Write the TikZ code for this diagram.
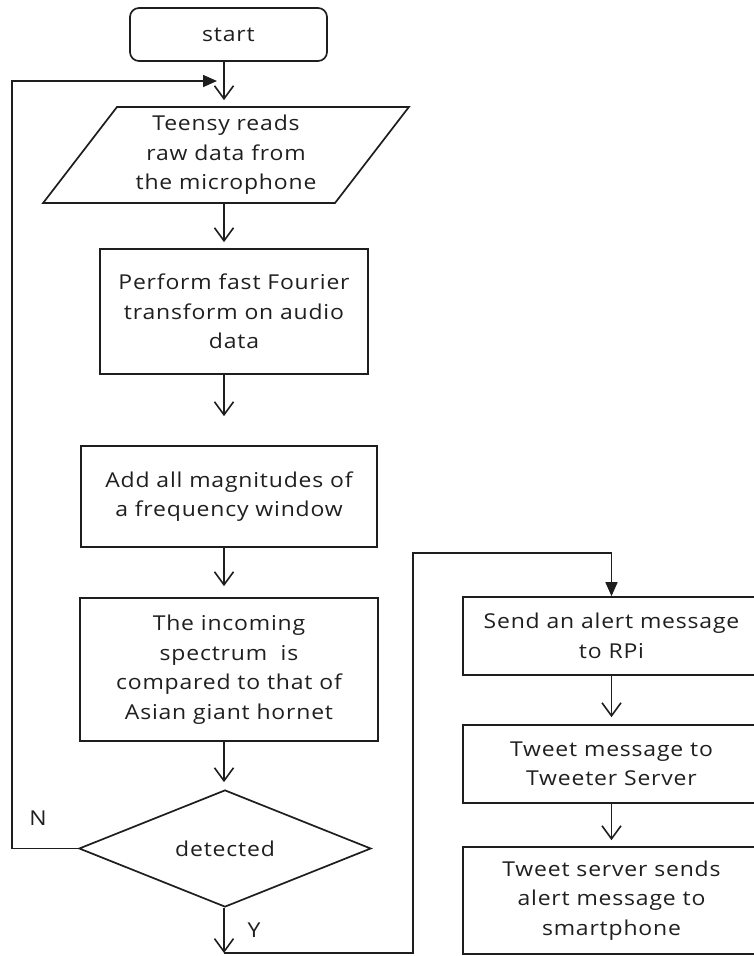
\documentclass[tikz,border=0pt]{standalone}
\usepackage{fontspec}
\setmainfont{Open Sans}[FakeStretch=1.12, LetterSpace=4]
\usetikzlibrary{arrows.meta,shapes.geometric}
\definecolor{ln}{HTML}{1E1E1E}
\definecolor{tx}{HTML}{1F1F1F}
\tikzset{
  base/.style={draw=ln, line width=1.7pt, text=tx, align=center, inner sep=0pt,
    font=\fontsize{20.5}{29.5}\selectfont},
  procbox/.style={base, rectangle},
  openarr/.style={draw=ln, line width=1.6pt, -{Straight Barb[length=13pt,width=19pt]}},
  fillarr/.style={draw=ln, line width=1.6pt, -{Triangle[length=14pt,width=12pt]}},
  lbl/.style={text=tx, font=\fontsize{20.5}{24}\selectfont, inner sep=0pt}
}
\begin{document}
\begin{tikzpicture}[x=1pt,y=-1pt]
\useasboundingbox (0,0) rectangle (754,956);
\fill[white] (0,0) rectangle (754,956);

\coordinate (spine) at (224,0);

\node[procbox, rounded corners=9pt, minimum width=197pt, minimum height=53pt] (start) at (228.5,34.5) {start};

\node[base, trapezium, trapezium left angle=52.4, trapezium right angle=127.6,
      trapezium stretches=true, minimum width=366pt, minimum height=96pt] (para) at (226,155)
      {Teensy reads\\raw data from\\the microphone};

\node[procbox, minimum width=268pt, minimum height=125pt] (fft) at (234,311.5)
      {Perform fast Fourier\\transform on audio\\data};

\node[procbox, minimum width=296pt, minimum height=101pt] (add) at (229,496.5)
      {Add all magnitudes of\\a frequency window};

\node[procbox, minimum width=298pt, minimum height=143pt] (cmp) at (229,669.5)
      {The incoming\\spectrum\ \ is\\compared to that of\\Asian giant hornet};

\node[base, diamond, minimum width=292pt, minimum height=117pt] (det) at (225,848.5) {detected};

\node[procbox, minimum width=297pt, minimum height=78pt] (alert) at (611.5,636)
      {Send an alert message\\to RPi};
\node[procbox, minimum width=297pt, minimum height=78pt] (tweet) at (611.5,764)
      {Tweet message to\\Tweeter Server};
\node[procbox, minimum width=297pt, minimum height=107pt] (srv) at (611.5,900.5)
      {Tweet server sends\\alert message to\\smartphone};

\node[lbl] (nlbl) at (38,818) {N};
\node[lbl] (ylbl) at (254,930) {Y};

\coordinate (looptip) at (217,81);
\coordinate (loopx) at (12,0);
\coordinate (ycorner) at (224,953);
\coordinate (rtop) at (413,553);

% main column
\draw[openarr, shorten >=6pt] (start.south -| spine) -- (para.north -| spine);
\draw[openarr, shorten >=6pt] (para.south -| spine) -- (fft.north -| spine);
\draw[openarr, shorten >=29pt] (fft.south -| spine) -- (add.north -| spine);
\draw[openarr, shorten >=11pt] (add.south -| spine) -- (cmp.north -| spine);
\draw[openarr, shorten >=7pt] (cmp.south -| spine) -- (det.north -| spine);

% N loop
\draw[fillarr] (det.west) -- (det.west -| loopx) |- (looptip);

% Y branch
\draw[openarr] (det.south -| spine) -- (ycorner);
\draw[fillarr] (ycorner) -| (rtop) -| (alert.north);

% right column
\draw[openarr, shorten >=7pt] (alert.south) -- (tweet.north);
\draw[openarr, shorten >=6pt] (tweet.south) -- (srv.north);
\end{tikzpicture}
\end{document}
